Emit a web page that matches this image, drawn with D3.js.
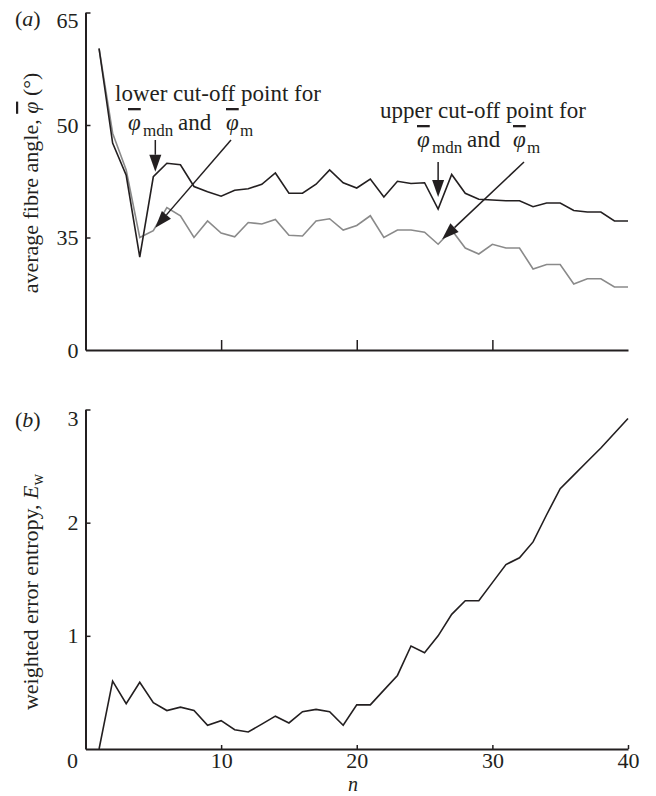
<!DOCTYPE html>
<html>
<head>
<meta charset="utf-8">
<script src="https://cdn.jsdelivr.net/npm/d3@7"></script>
<style>
  body { margin: 0; background: #fff; }
  svg text { font-family: "Liberation Serif", "Times New Roman", serif; fill: #231f20; }
  .bar { text-decoration: overline; }
</style>
</head>
<body>
<svg id="chart" width="656" height="796"></svg>
<script>
// data
const nValues = [1,2,3,4,5,6,7,8,9,10,11,12,13,14,15,16,17,18,19,20,
                 21,22,23,24,25,26,27,28,29,30,31,32,33,34,35,36,37,38,39,40];
// median fibre angle (black)
const medianAngle = [60.2,47.6,43.3,32.4,43.1,44.9,44.7,41.8,41.1,40.5,
                     41.3,41.5,42.1,43.6,40.9,40.9,42.1,44.0,42.3,41.6,
                     42.8,40.4,42.5,42.2,42.3,38.8,43.4,40.9,40.1,40.0,
                     39.9,39.9,39.1,39.6,39.6,38.6,38.4,38.4,37.2,37.2];
// mean fibre angle (grey)
const meanAngle = [60.2,48.9,44.0,35.0,35.9,39.0,37.9,35.0,37.2,35.6,
                   35.1,37.0,36.8,37.4,35.3,35.2,37.2,37.5,36.0,36.6,
                   37.9,35.0,36.0,36.0,35.7,34.1,36.0,33.6,32.8,34.1,
                   33.6,33.6,30.8,31.4,31.4,28.8,29.5,29.5,28.4,28.4];
// weighted error entropy
const entropy = [0.00,0.60,0.40,0.59,0.41,0.34,0.37,0.34,0.21,0.25,
                 0.17,0.15,0.22,0.29,0.23,0.33,0.35,0.33,0.21,0.39,
                 0.39,0.52,0.65,0.91,0.85,1.00,1.19,1.31,1.31,1.47,
                 1.63,1.69,1.83,2.07,2.30,2.42,2.54,2.66,2.79,2.92];

const xTicks = [0, 10, 20, 30, 40];
const topXTicks = [10, 20, 30];
const angleTicks = [20, 35, 50, 65];
const angleTickLabels = ["0", "35", "50", "65"];
const entropyTicks = [1, 2, 3];

const ink = "#231f20";
const svg = d3.select("#chart");

// scales
const x = d3.scaleLinear().domain([0, 40]).range([85.5, 628]);
const yA = d3.scaleLinear().domain([20, 65]).range([350, 12.5]);
const yB = d3.scaleLinear().domain([0, 3]).range([749, 409.5]);

function styleAxis(g) {
  g.attr("font-family", null);
  g.select(".domain").attr("stroke", ink).attr("stroke-width", 2);
  g.selectAll(".tick line").attr("stroke", ink).attr("stroke-width", 1.5);
  g.selectAll(".tick text").attr("font-size", "22px").attr("fill", ink);
}

// ---------- panel (a) ----------
svg.append("g")
  .attr("transform", `translate(0,${yA.range()[0]})`)
  .call(d3.axisBottom(x).tickValues(topXTicks).tickSizeInner(-10).tickSizeOuter(0).tickFormat(""))
  .call(styleAxis);

const axA = svg.append("g")
  .attr("transform", `translate(${x.range()[0]},0)`)
  .call(d3.axisLeft(yA).tickValues(angleTicks).tickSizeInner(-5).tickSizeOuter(0).tickPadding(7)
    .tickFormat((d, i) => angleTickLabels[i]))
  .call(styleAxis);
axA.selectAll(".tick").filter(d => d === 65).select("text").attr("y", 8);
axA.selectAll(".tick").filter(d => d === 20).select("line").remove();

const lineA = (vals) => d3.line().x((d, i) => x(nValues[i])).y(d => yA(d))(vals);

svg.append("path").attr("d", lineA(meanAngle))
  .attr("fill", "none").attr("stroke", "#8a8a8a").attr("stroke-width", 1.6);
svg.append("path").attr("d", lineA(medianAngle))
  .attr("fill", "none").attr("stroke", ink).attr("stroke-width", 1.6);

svg.append("text").attr("x", 15).attr("y", 26).attr("font-size", "22px")
  .html('(<tspan font-style="italic">a</tspan>)');

svg.append("text")
  .attr("transform", "translate(38,183) rotate(-90)")
  .attr("text-anchor", "middle").attr("font-size", "22px")
  .html('average fibre angle, <tspan class="bar" font-style="italic">\u03C6</tspan> (\u00B0)');

// annotations
function arrow(x1, y1, x2, y2) {
  const L = 17, W = 6;
  const len = Math.hypot(x2 - x1, y2 - y1);
  const ux = (x2 - x1) / len, uy = (y2 - y1) / len;
  const bx = x2 - ux * L, by = y2 - uy * L;
  svg.append("line").attr("x1", x1).attr("y1", y1).attr("x2", bx).attr("y2", by)
    .attr("stroke", ink).attr("stroke-width", 1.5);
  svg.append("path")
    .attr("d", `M${x2},${y2}L${bx - uy * W},${by + ux * W}L${bx + uy * W},${by - ux * W}Z`)
    .attr("fill", ink);
}

function phiLabel(yBase, xs) {
  // xs: phi, "mdn", "and", phi, "m"
  const t = svg.append("text").attr("y", yBase).attr("font-size", "23px");
  t.append("tspan").attr("x", xs[0]).attr("class", "bar").attr("font-style", "italic").text("\u03C6");
  t.append("tspan").attr("x", xs[1]).attr("dy", 6).attr("font-size", "17px").text("mdn");
  t.append("tspan").attr("x", xs[2]).attr("dy", -6).text("and");
  t.append("tspan").attr("x", xs[3]).attr("class", "bar").attr("font-style", "italic").text("\u03C6");
  t.append("tspan").attr("x", xs[4]).attr("dy", 6).attr("font-size", "17px").text("m");
}

svg.append("text").attr("x", 115).attr("y", 101).attr("font-size", "23px").text("lower cut-off point for");
phiLabel(130, [128, 143, 178, 226, 240]);
arrow(x(5) + 2, 140, x(5) + 2, yA(medianAngle[4]) - 5);
arrow(231, 140, x(5) + 2, yA(meanAngle[4]) - 3);

svg.append("text").attr("x", 380).attr("y", 118).attr("font-size", "23px").text("upper cut-off point for");
phiLabel(147, [417, 432, 467, 513, 527]);
arrow(x(26), 162, x(26), yA(medianAngle[25]) - 12);
arrow(524, 162, x(26) + 4, yA(meanAngle[25]) - 5);

// ---------- panel (b) ----------
const axBx = svg.append("g")
  .attr("transform", `translate(0,${yB.range()[0]})`)
  .call(d3.axisBottom(x).tickValues(xTicks).tickSizeInner(-4).tickSizeOuter(0).tickPadding(3)
    .tickFormat(d3.format("d")))
  .call(styleAxis);
axBx.selectAll(".tick").filter(d => d === 0).select("text").attr("dx", -13.5);
axBx.selectAll(".tick").filter(d => d === 0).select("line").remove();

const axBy = svg.append("g")
  .attr("transform", `translate(${x.range()[0]},0)`)
  .call(d3.axisLeft(yB).tickValues(entropyTicks).tickSizeInner(-5).tickSizeOuter(0).tickPadding(7)
    .tickFormat(d3.format("d")))
  .call(styleAxis);
axBy.selectAll(".tick").filter(d => d === 3).select("text").attr("y", 9);

svg.append("path")
  .attr("d", d3.line().x((d, i) => x(nValues[i])).y(d => yB(d))(entropy))
  .attr("fill", "none").attr("stroke", ink).attr("stroke-width", 1.6);

svg.append("text").attr("x", 15).attr("y", 427).attr("font-size", "22px")
  .html('(<tspan font-style="italic">b</tspan>)');

svg.append("text")
  .attr("transform", "translate(38,592) rotate(-90)")
  .attr("text-anchor", "middle").attr("font-size", "22px")
  .html('weighted error entropy, <tspan font-style="italic">E</tspan><tspan font-size="16px" dy="5">w</tspan>');

svg.append("text").attr("x", 353).attr("y", 791).attr("text-anchor", "middle")
  .attr("font-size", "20px").attr("font-style", "italic").text("n");
</script>
</body>
</html>
